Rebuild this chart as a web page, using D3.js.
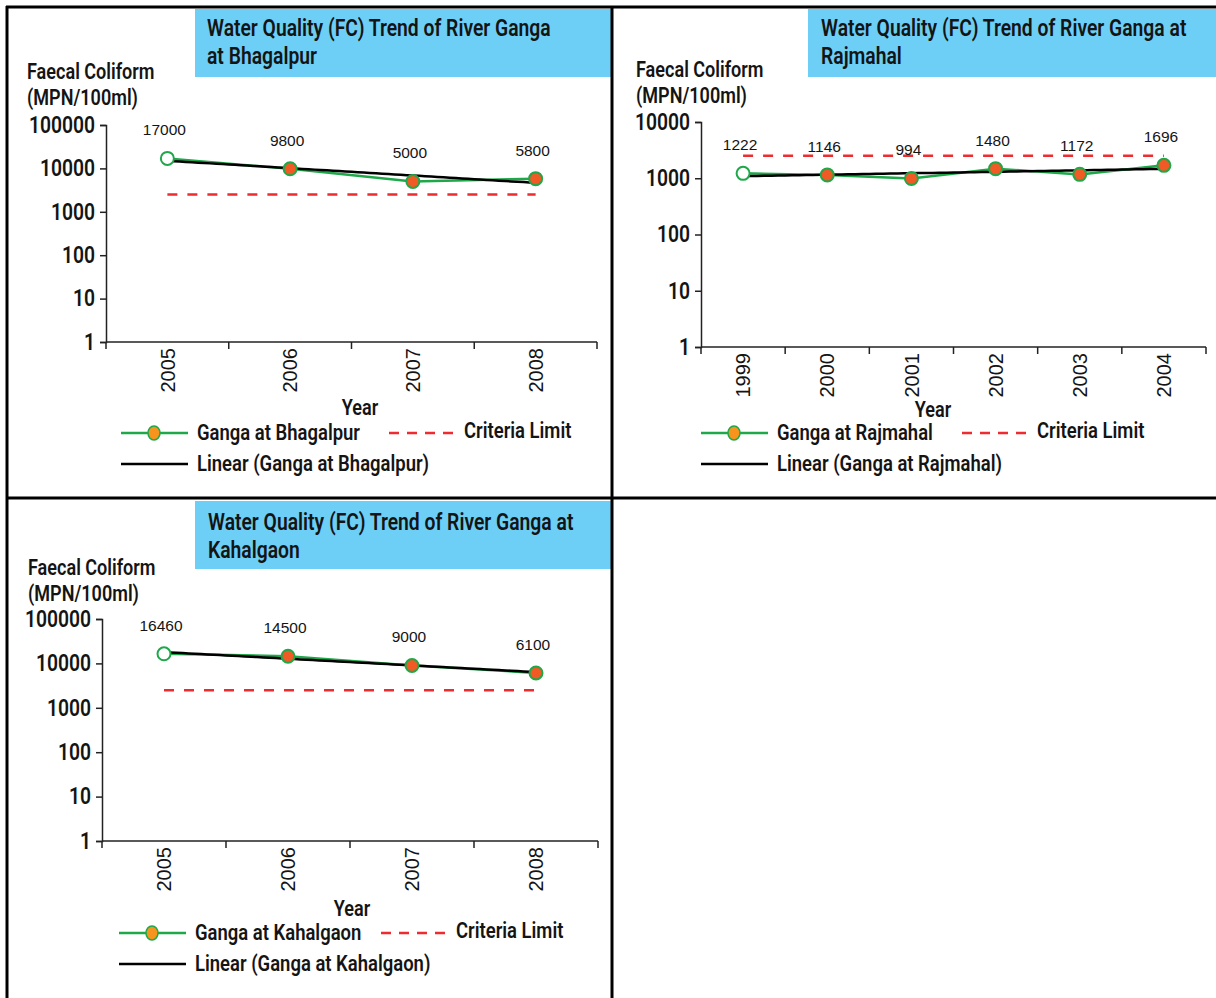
<!DOCTYPE html>
<html>
<head>
<meta charset="utf-8">
<script src="https://cdn.jsdelivr.net/npm/d3@7"></script>
<style>
  body { margin: 0; background: #fff; }
  svg { display: block; }
</style>
</head>
<body>
<div id="chart"></div>
<script>
// data
const bhagalpurYears = ["2005", "2006", "2007", "2008"];
const bhagalpurFC = [17000, 9800, 5000, 5800];

const rajmahalYears = ["1999", "2000", "2001", "2002", "2003", "2004"];
const rajmahalFC = [1222, 1146, 994, 1480, 1172, 1696];

const kahalgaonYears = ["2005", "2006", "2007", "2008"];
const kahalgaonFC = [16460, 14500, 9000, 6100];

const criteriaLimit = 2500;
const ticksTo100000 = [1, 10, 100, 1000, 10000, 100000];
const ticksTo10000 = [1, 10, 100, 1000, 10000];

// no condensed face is installed, so squeeze Roboto sideways instead
const condFont = "Roboto, 'Noto Sans', sans-serif";
const condWeight = 600;
const squeeze = 0.84;
const plain = "'Liberation Sans', Arial, sans-serif";
const ink = "#141414";

const green = "#1ea84a";
const red = "#ee2b2f";
const dot = "#f05a24";
const legendDot = "#f7941d";
const titleBlue = "#6dcff6";

const width = 1216, height = 998;

const svg = d3.select("#chart").append("svg")
  .attr("width", width)
  .attr("height", height);

function condText(parent, x, y, str, size, anchor = "start") {
  return parent.append("text")
    .attr("transform", `translate(${x},${y}) scale(${squeeze},1)`)
    .attr("text-anchor", anchor)
    .attr("font-family", condFont)
    .attr("font-weight", condWeight)
    .attr("font-size", size)
    .attr("fill", ink)
    .text(str);
}

// least squares fit over index 1..n, done on the log values so it
// comes out straight on the log axis like the trendline in the picture
function trendFit(values) {
  let n = values.length;
  let xs = d3.range(1, n + 1);
  let ls = values.map((v) => Math.log(v));
  let mx = d3.mean(xs), my = d3.mean(ls);
  let num = d3.sum(xs, (x, i) => (x - mx) * (ls[i] - my));
  let den = d3.sum(xs, (x) => (x - mx) * (x - mx));
  let slope = num / den;
  return (x) => Math.exp(my + slope * (x - mx));
}

function drawPanel(p) {
  let g = svg.append("g");

  // title box
  g.append("rect")
    .attr("x", p.titleBox[0]).attr("y", p.titleBox[1])
    .attr("width", p.titleBox[2]).attr("height", p.titleBox[3])
    .attr("fill", titleBlue);
  p.title.forEach((line, i) => {
    condText(g, p.titleX, p.titleY + i * 28, line, 23);
  });

  // y axis title
  condText(g, p.yTitleX, p.yTitleY, "Faecal Coliform", 21.5);
  condText(g, p.yTitleX, p.yTitleY + 26, "(MPN/100ml)", 21.5);

  let x = d3.scaleBand().domain(p.years).range([p.left, p.right]);
  let cx = (i) => x(p.years[i]) + x.bandwidth() / 2;
  let y = d3.scaleLog().domain([1, p.ticks[p.ticks.length - 1]]).range([p.bottom, p.top]);

  // y axis
  let yAxis = g.append("g")
    .attr("transform", `translate(${p.left},0)`)
    .call(d3.axisLeft(y).tickValues(p.ticks).tickFormat(d3.format("d")).tickSize(6).tickPadding(7));
  yAxis.select(".domain").attr("stroke", "#222").attr("stroke-width", 1.5);
  yAxis.selectAll(".tick line").attr("stroke", "#222").attr("stroke-width", 1.5);
  yAxis.selectAll(".tick text")
    .attr("transform", `scale(${squeeze},1)`)
    .attr("font-family", condFont)
    .attr("font-size", 23)
    .attr("font-weight", condWeight)
    .attr("fill", ink);

  // x axis: ticks sit on the band edges
  let edges = p.years.map((d) => x(d)).concat([p.right]);
  let xAxis = g.append("g").attr("transform", `translate(0,${p.bottom})`);
  xAxis.append("line")
    .attr("x1", p.left).attr("x2", p.right)
    .attr("stroke", "#222").attr("stroke-width", 1.5);
  xAxis.selectAll(".edge")
    .data(edges)
    .join("line")
    .attr("class", "edge")
    .attr("x1", (d) => d).attr("x2", (d) => d)
    .attr("y1", 0).attr("y2", 7)
    .attr("stroke", "#222").attr("stroke-width", 1.5);
  xAxis.selectAll(".year")
    .data(p.years)
    .join("text")
    .attr("class", "year")
    .attr("transform", (d, i) => `translate(${cx(i)},6) rotate(-90)`)
    .attr("dy", "0.36em")
    .attr("text-anchor", "end")
    .attr("font-family", plain)
    .attr("font-size", 20)
    .attr("fill", ink)
    .text((d) => d);

  condText(g, p.yearX, p.yearY, "Year", 21.5, "middle");

  // criteria limit
  g.append("line")
    .attr("x1", cx(0)).attr("x2", cx(p.years.length - 1))
    .attr("y1", y(criteriaLimit)).attr("y2", y(criteriaLimit))
    .attr("stroke", red).attr("stroke-width", 2.5)
    .attr("stroke-dasharray", "10,10");

  // series line
  g.append("path")
    .datum(p.values)
    .attr("fill", "none")
    .attr("stroke", green)
    .attr("stroke-width", 2.5)
    .attr("d", d3.line().x((d, i) => cx(i)).y((d) => y(d)));

  // trend
  let fit = trendFit(p.values);
  let n = p.values.length;
  let samples = d3.range(0, 61).map((k) => 1 + (k / 60) * (n - 1));
  let step = x.step();
  g.append("path")
    .datum(samples)
    .attr("fill", "none")
    .attr("stroke", "#000")
    .attr("stroke-width", 2.5)
    .attr("d", d3.line().x((t) => cx(0) + (t - 1) * step).y((t) => y(fit(t))));

  // markers
  g.selectAll(".pt")
    .data(p.values)
    .join("circle")
    .attr("class", "pt")
    .attr("cx", (d, i) => cx(i))
    .attr("cy", (d) => y(d))
    .attr("r", 6.5)
    .attr("fill", (d, i) => (i === 0 ? "#fff" : dot))
    .attr("stroke", green)
    .attr("stroke-width", 2);

  // value labels
  g.selectAll(".lbl")
    .data(p.values)
    .join("text")
    .attr("class", "lbl")
    .attr("x", (d, i) => cx(i) - 3)
    .attr("y", (d) => y(d) - 23)
    .attr("text-anchor", "middle")
    .attr("font-family", plain)
    .attr("font-size", 15.5)
    .attr("fill", ink)
    .text((d) => d);

  // legend
  let lg = g.append("g").attr("transform", `translate(${p.legendX},${p.legendY})`);
  lg.append("line").attr("x1", 0).attr("x2", 67)
    .attr("stroke", green).attr("stroke-width", 2.5);
  lg.append("ellipse").attr("cx", 33).attr("cy", 0).attr("rx", 6).attr("ry", 7)
    .attr("fill", legendDot).attr("stroke", green).attr("stroke-width", 1.5);
  condText(lg, 76, 7, p.name, 22);

  lg.append("line").attr("x1", p.critX).attr("x2", p.critX + 66)
    .attr("stroke", red).attr("stroke-width", 2.5).attr("stroke-dasharray", "10,8");
  condText(lg, p.critX + 75, 5, "Criteria Limit", 22);

  lg.append("line").attr("x1", 0).attr("x2", 67).attr("y1", 31).attr("y2", 31)
    .attr("stroke", "#000").attr("stroke-width", 2.5);
  condText(lg, 76, 38, `Linear (${p.name})`, 22);
}

const panels = [
  {
    name: "Ganga at Bhagalpur",
    title: ["Water Quality (FC) Trend of River Ganga", "at Bhagalpur"],
    years: bhagalpurYears, values: bhagalpurFC, ticks: ticksTo100000,
    titleBox: [195, 9, 416, 68], titleX: 207, titleY: 36,
    yTitleX: 27, yTitleY: 79,
    left: 106, right: 597, top: 125, bottom: 342,
    yearX: 360, yearY: 415, legendX: 121, legendY: 433, critX: 268,
  },
  {
    name: "Ganga at Rajmahal",
    title: ["Water Quality (FC) Trend of River Ganga at", "Rajmahal"],
    years: rajmahalYears, values: rajmahalFC, ticks: ticksTo10000,
    titleBox: [808, 9, 408, 68], titleX: 821, titleY: 36,
    yTitleX: 636, yTitleY: 77,
    left: 701, right: 1206, top: 122, bottom: 347,
    yearX: 933, yearY: 417, legendX: 701, legendY: 433, critX: 261,
  },
  {
    name: "Ganga at Kahalgaon",
    title: ["Water Quality (FC) Trend of River Ganga at", "Kahalgaon"],
    years: kahalgaonYears, values: kahalgaonFC, ticks: ticksTo100000,
    titleBox: [195, 501, 416, 68], titleX: 208, titleY: 530,
    yTitleX: 28, yTitleY: 575,
    left: 102, right: 598, top: 619, bottom: 841,
    yearX: 352, yearY: 916, legendX: 119, legendY: 933, critX: 262,
  },
];

panels.forEach(drawPanel);

// frame lines between the panels
const frame = [
  [6, 7, 1216, 7],
  [7, 6, 7, 998],
  [612, 6, 612, 998],
  [6, 498, 1216, 498],
];
svg.selectAll(".frame")
  .data(frame)
  .join("line")
  .attr("class", "frame")
  .attr("x1", (d) => d[0]).attr("y1", (d) => d[1])
  .attr("x2", (d) => d[2]).attr("y2", (d) => d[3])
  .attr("stroke", "#000")
  .attr("stroke-width", 3);
</script>
</body>
</html>
